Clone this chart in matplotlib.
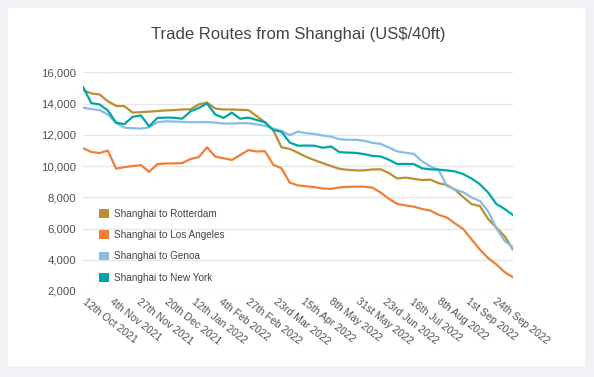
import matplotlib
matplotlib.use("Agg")
import matplotlib.pyplot as plt
import matplotlib.transforms as mtransforms
from matplotlib.patches import Rectangle, Patch
from matplotlib.ticker import FuncFormatter
import pandas as pd

plt.rcParams['font.family'] = ['Liberation Sans', 'DejaVu Sans']

dates = pd.date_range("2021-10-12", periods=53, freq="7D")

rotterdam = [14860, 14650, 14580, 14150, 13850, 13830, 13420, 13450, 13480, 13520,
             13560, 13580, 13620, 13630, 13950, 14060, 13680, 13620, 13620, 13600,
             13580, 13200, 12800, 12300, 11200, 11100, 10850, 10580, 10380, 10180,
             10000, 9820, 9760, 9720, 9720, 9780, 9790, 9550, 9200, 9260,
             9180, 9100, 9130, 8900, 8790, 8480, 8000, 7560, 7440, 6600,
             6050, 5500, 4650]
los_angeles = [11140, 10900, 10830, 10990, 9830, 9930, 10000, 10060, 9630, 10120,
               10160, 10170, 10190, 10450, 10570, 11200, 10600, 10500, 10390, 10700,
               11020, 10930, 10950, 10090, 9850, 8940, 8760, 8700, 8650, 8560,
               8540, 8630, 8670, 8680, 8680, 8620, 8300, 7900, 7580, 7480,
               7400, 7250, 7150, 6880, 6700, 6320, 5960, 5300, 4650, 4100,
               3700, 3200, 2880]
genoa = [13740, 13650, 13580, 13300, 12750, 12460, 12420, 12400, 12480, 12810,
         12860, 12850, 12830, 12800, 12810, 12810, 12780, 12720, 12720, 12740,
         12740, 12660, 12580, 12400, 12250, 11980, 12200, 12100, 12050, 11950,
         11880, 11720, 11680, 11680, 11620, 11480, 11420, 11180, 10940, 10850,
         10780, 10300, 9980, 9750, 8720, 8500, 8320, 7980, 7760, 7100,
         6000, 5200, 4800]
new_york = [15070, 14030, 13940, 13560, 12780, 12680, 13150, 13240, 12540, 13080,
            13100, 13090, 13030, 13500, 13720, 14000, 13300, 13080, 13420, 13030,
            13100, 12950, 12800, 12300, 12200, 11500, 11300, 11310, 11300, 11170,
            11250, 10890, 10860, 10840, 10760, 10650, 10610, 10400, 10130, 10130,
            10130, 9850, 9790, 9770, 9720, 9650, 9480, 9200, 8830, 8300,
            7560, 7250, 6860]

series_names = ["Shanghai to Rotterdam", "Shanghai to Los Angeles",
                "Shanghai to Genoa", "Shanghai to New York"]
colors = ["#B8902F", "#F07F35", "#86BCE5", "#00A6A6"]

tick_dates = pd.to_datetime(["2021-10-12", "2021-11-04", "2021-11-27", "2021-12-20",
                             "2022-01-12", "2022-02-04", "2022-02-27", "2022-03-23",
                             "2022-04-15", "2022-05-08", "2022-05-31", "2022-06-23",
                             "2022-07-16", "2022-08-08", "2022-09-01", "2022-09-24"])
tick_labels = ["12th Oct 2021", "4th Nov 2021", "27th Nov 2021", "20th Dec 2021",
               "12th Jan 2022", "4th Feb 2022", "27th Feb 2022", "23rd Mar 2022",
               "15th Apr 2022", "8th May 2022", "31st May 2022", "23rd Jun 2022",
               "16th Jul 2022", "8th Aug 2022", "1st Sep 2022", "24th Sep 2022"]
y_ticks = [2000, 4000, 6000, 8000, 10000, 12000, 14000, 16000]

W, H = 594, 377
fig = plt.figure(figsize=(W / 100, H / 100), dpi=100, facecolor="#F1F2F6")
fig.patches.append(Rectangle((8 / W, 1 - 366 / H), 577 / W, 358 / H,
                             transform=fig.transFigure, facecolor="white",
                             edgecolor="none", zorder=-10))

ax = fig.add_axes([83 / W, 1 - 291 / H, 430 / W, (291 - 72.3) / H])
ax.set_facecolor("none")

all_series = [rotterdam, los_angeles, genoa, new_york]
for vals, name, c in zip(all_series, series_names, colors):
    ax.plot(dates, vals, color=c, lw=1.6, label=name, solid_joinstyle="round",
            solid_capstyle="round", zorder=3)

ax.set_xlim(dates[0], dates[-1])
ax.set_ylim(2000, 16000)
ax.set_yticks(y_ticks)
ax.yaxis.set_major_formatter(FuncFormatter(lambda v, p: f"{int(v):,}"))
ax.grid(axis="y", color="#E6E6E6", lw=1)
ax.set_axisbelow(True)
for s in ax.spines.values():
    s.set_visible(False)
ax.tick_params(axis="y", length=0, pad=5, labelsize=8.2, labelcolor="#505050")
ax.set_xticks(tick_dates)
ax.set_xticklabels(tick_labels, rotation=-38, ha="left", va="top",
                   rotation_mode="anchor")
ax.tick_params(axis="x", length=0, pad=4, labelsize=7.6, labelcolor="#505050")
shift = mtransforms.ScaledTranslation(4 / 100, 0, fig.dpi_scale_trans)
for lbl in ax.get_xticklabels():
    lbl.set_transform(lbl.get_transform() + shift)

fig.text(298 / W, 1 - 39.3 / H, "Trade Routes from Shanghai (US$/40ft)",
         ha="center", va="baseline", fontsize=12, color="#444444")

handles = [Patch(facecolor=c, edgecolor="none") for c in colors]
leg = ax.legend(handles, series_names, loc="upper left",
                bbox_to_anchor=(99 / W, 1 - 209 / H), bbox_transform=fig.transFigure,
                frameon=False, fontsize=7.2, handlelength=1.0, handleheight=1.0,
                handletextpad=0.55, labelspacing=1.12, borderaxespad=0, borderpad=0)
for t in leg.get_texts():
    t.set_color("#444444")

fig.savefig("out.png", dpi=100, facecolor=fig.get_facecolor())
